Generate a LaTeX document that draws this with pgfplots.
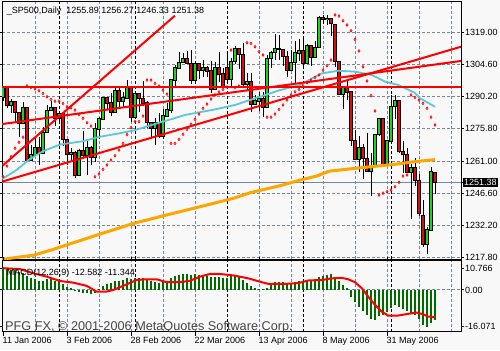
\documentclass[border=0pt]{standalone}
\usepackage{fontspec}
\setmainfont{Liberation Sans}
\usepackage{pgfplots}
\usepackage{pgfplotstable}
\pgfplotsset{compat=1.18}

\definecolor{bgc}{RGB}{248,248,248}
\definecolor{gridc}{RGB}{119,136,153}
\definecolor{bullc}{RGB}{30,210,30}
\definecolor{bearc}{RGB}{215,15,15}
\definecolor{orangec}{RGB}{255,165,0}
\definecolor{cyanc}{RGB}{90,200,215}
\definecolor{histc}{RGB}{0,105,0}
\definecolor{sarc}{RGB}{255,0,0}

\newcommand{\smallfont}{\fontsize{9bp}{10bp}\selectfont}

\pgfplotstableread{
i o h l c
0 1289.7 1294.9 1288.1 1294.2
1 1294.2 1294.2 1285.0 1286.1
2 1286.1 1289.0 1282.8 1287.6
3 1287.6 1287.6 1278.6 1282.9
4 1282.9 1282.9 1272.1 1277.9
5 1277.9 1287.8 1277.9 1285.0
6 1285.0 1285.0 1260.9 1261.5
7 1261.5 1268.2 1261.5 1263.8
8 1263.8 1271.9 1263.8 1266.9
9 1266.9 1271.9 1259.4 1264.7
10 1264.7 1276.4 1264.7 1273.8
11 1273.8 1286.4 1273.8 1283.7
12 1283.7 1287.9 1283.5 1285.2
13 1285.2 1285.2 1276.9 1280.1
14 1280.1 1283.3 1277.6 1282.5
15 1282.5 1282.5 1267.7 1270.8
16 1270.8 1270.9 1259.4 1264.0
17 1264.0 1267.0 1261.0 1265.0
18 1265.0 1265.8 1253.6 1254.8
19 1254.8 1266.5 1254.8 1265.7
20 1265.7 1274.6 1262.8 1263.8
21 1263.8 1269.9 1255.0 1267.0
22 1267.0 1267.7 1259.2 1262.9
23 1262.9 1278.2 1260.8 1275.5
24 1275.5 1281.0 1271.1 1280.0
25 1280.0 1289.4 1280.0 1289.4
26 1289.4 1289.5 1284.6 1287.2
27 1287.2 1291.9 1281.2 1283.0
28 1283.0 1294.2 1283.0 1292.7
29 1292.7 1293.8 1285.4 1287.8
30 1287.8 1292.1 1285.6 1289.4
31 1289.4 1297.6 1289.4 1294.1
32 1294.1 1294.1 1278.7 1280.7
33 1280.7 1291.8 1280.7 1291.2
34 1291.2 1291.2 1283.2 1289.1
35 1289.1 1297.3 1285.7 1287.2
36 1287.2 1288.2 1275.9 1278.3
37 1278.3 1278.3 1271.1 1275.9
38 1275.9 1280.3 1268.4 1278.5
39 1278.5 1282.7 1271.5 1272.2
40 1272.2 1284.4 1271.1 1281.4
41 1281.4 1287.4 1281.4 1284.1
42 1284.1 1298.1 1282.7 1297.5
43 1297.5 1304.4 1295.0 1303.0
44 1303.0 1310.1 1303.0 1305.3
45 1305.3 1309.8 1305.3 1307.3
46 1307.3 1310.6 1305.0 1305.1
47 1305.1 1310.9 1295.8 1297.2
48 1297.2 1306.0 1295.8 1305.0
49 1305.0 1305.0 1298.1 1301.7
50 1301.7 1306.5 1298.9 1303.0
51 1303.0 1303.7 1299.0 1301.6
52 1301.6 1306.2 1291.8 1293.2
53 1293.2 1305.6 1293.2 1302.9
54 1302.9 1310.2 1296.7 1300.3
55 1300.3 1303.0 1294.1 1294.9
56 1302.9 1309.2 1296.7 1297.8
57 1297.8 1307.6 1294.7 1305.9
58 1305.9 1312.8 1304.8 1311.6
59 1311.6 1312.0 1302.4 1309.0
60 1309.0 1314.1 1294.2 1295.5
61 1295.5 1300.7 1293.2 1296.6
62 1296.6 1300.7 1283.0 1286.6
63 1286.6 1290.9 1286.5 1288.1
64 1288.1 1292.1 1283.4 1289.1
65 1289.1 1292.1 1280.7 1285.3
66 1285.3 1309.0 1285.3 1307.3
67 1307.3 1310.4 1302.8 1309.9
68 1309.9 1318.2 1306.4 1311.5
69 1311.5 1317.7 1306.6 1311.3
70 1311.3 1311.3 1303.8 1308.1
71 1308.1 1310.8 1298.9 1301.7
72 1301.7 1311.0 1301.7 1305.4
73 1305.4 1315.0 1295.8 1309.7
74 1309.7 1316.0 1306.2 1310.6
75 1310.6 1317.2 1303.5 1305.2
76 1305.2 1313.7 1305.2 1313.2
77 1313.2 1313.2 1303.9 1307.9
78 1307.9 1315.1 1307.9 1312.3
79 1312.3 1326.5 1312.3 1325.8
80 1325.8 1326.7 1322.9 1324.7
81 1324.7 1326.6 1322.5 1325.1
82 1325.1 1325.5 1317.4 1322.9
83 1322.6 1322.6 1303.5 1305.9
84 1305.9 1305.9 1290.7 1291.2
85 1291.2 1294.8 1284.5 1294.5
86 1294.5 1297.9 1288.5 1292.1
87 1292.1 1292.1 1267.7 1270.3
88 1270.3 1274.9 1261.8 1261.8
89 1261.8 1272.2 1256.3 1267.0
90 1267.0 1268.8 1253.0 1262.1
91 1262.1 1273.7 1256.2 1256.6
92 1256.6 1264.5 1245.3 1258.6
93 1258.6 1273.3 1258.6 1272.9
94 1272.9 1280.5 1272.5 1280.2
95 1280.0 1280.5 1259.9 1259.8
96 1259.4 1270.5 1259.4 1270.1
97 1270.1 1290.7 1270.1 1285.7
98 1285.7 1290.7 1280.2 1288.2
99 1288.2 1288.5 1264.7 1265.3
100 1265.3 1269.9 1255.9 1263.9
101 1263.9 1267.0 1255.8 1256.2
102 1256.2 1259.9 1235.2 1257.9
103 1257.9 1262.6 1250.0 1252.3
104 1252.3 1255.2 1236.4 1237.4
105 1236.4 1243.4 1222.5 1223.7
106 1223.7 1231.5 1219.3 1230.0
107 1230.0 1258.6 1230.0 1256.2
108 1255.89 1256.27 1246.33 1251.38
}\ohlc

\pgfplotstableread{
i s
0 1254.0
1 1258.8
2 1263.0
3 1266.8
4 1269.5
5 1271.8
6 1294.9
7 1294.2
8 1293.6
9 1292.7
10 1291.5
11 1290.0
12 1288.8
13 1288.0
14 1288.0
15 1287.0
16 1285.5
17 1285.0
18 1284.0
19 1282.0
20 1280.3
21 1278.3
22 1276.8
23 1254.0
24 1255.2
25 1257.3
26 1259.3
27 1261.5
28 1263.5
29 1266.0
30 1269.0
31 1273.0
32 1276.1
33 1278.8
34 1278.8
35 1281.3
36 1297.5
37 1297.5
38 1296.0
39 1294.8
40 1293.0
41 1291.2
42 1269.0
43 1269.0
44 1270.8
45 1273.1
46 1275.3
47 1277.6
48 1279.8
49 1282.2
50 1284.8
51 1286.7
52 1289.0
53 1290.8
54 1292.2
55 1293.3
56 1294.4
57 1311.0
58 1294.2
59 1294.8
61 1314.3
62 1314.0
63 1312.5
64 1310.3
65 1308.8
66 1280.8
67 1280.8
68 1282.2
69 1284.3
70 1286.3
71 1288.5
72 1290.8
73 1292.2
74 1293.3
75 1294.9
76 1296.3
77 1297.5
78 1298.7
79 1299.8
80 1302.0
81 1304.0
82 1306.5
83 1326.8
84 1326.3
85 1324.2
86 1322.3
87 1319.7
88 1315.8
89 1310.6
90 1303.5
91 1297.1
92 1290.5
93 1283.6
94 1245.8
95 1246.6
96 1247.3
97 1248.0
98 1249.5
99 1251.5
100 1254.3
101 1254.8
102 1290.8
103 1289.7
104 1288.5
105 1287.0
106 1284.8
107 1280.8
108 1277.3
}\sar

\pgfplotstableread{
i m
0 9.0
1 9.0
2 8.3
3 8.3
4 7.6
5 7.2
6 5.8
7 4.8
8 4.4
9 3.9
10 3.9
11 4.4
12 4.4
13 3.9
14 3.5
15 2.3
16 1.4
17 0.7
18 -0.3
19 -0.7
20 -1.1
21 -1.4
22 -1.8
23 -1.1
24 0.3
25 1.7
26 2.5
27 2.8
28 3.5
29 3.9
30 4.1
31 4.8
32 4.4
33 4.8
34 4.8
35 4.8
36 4.1
37 3.5
38 3.2
39 2.8
40 3.2
41 3.5
42 4.8
43 5.8
44 6.2
45 6.6
46 6.6
47 6.2
48 6.5
49 6.2
50 6.2
51 5.9
52 5.2
53 5.5
54 5.2
55 4.8
56 5.1
57 5.8
58 5.8
59 5.5
60 4.1
61 3.0
62 1.5
63 0.6
64 0.3
65 0.2
66 0.9
67 2.0
68 3.2
69 3.2
70 3.2
71 2.8
72 2.8
73 3.2
74 3.5
75 3.5
76 3.9
77 3.9
78 4.4
79 5.5
80 5.8
81 6.2
82 6.6
83 5.2
84 3.5
85 2.1
86 0.7
87 -2.8
88 -4.8
89 -7.2
90 -8.7
91 -10.4
92 -12.1
93 -12.4
94 -11.0
95 -10.4
96 -9.0
97 -7.6
98 -6.2
99 -7.2
100 -8.0
101 -8.6
102 -9.4
103 -10.4
104 -12.1
105 -14.5
106 -15.5
107 -13.8
108 -12.6
}\macd

\pgfplotsset{
  candle/.style 2 args={forget plot, draw=none, mark=none,
    error bars/.cd, y dir=plus, y explicit, error mark=none,
    error bar style={draw=#1, line width=#2, solid}},
}

\begin{document}
\begin{tikzpicture}[x=1bp,y=1bp]
\fill[bgc] (0,0) rectangle (500,350);

% ---------------- main price panel ----------------
\begin{axis}[
  at={(2bp,348.5bp)}, anchor=north west,
  width=459bp, height=257.5bp, scale only axis,
  xmin=-0.25, xmax=114.5, ymin=1216.99, ymax=1332.86,
  axis line style={black, line width=1bp},
  xtick={8,16,...,112}, xticklabels={}, xtick style={draw=none},
  xmajorgrids, ymajorgrids,
  grid style={gridc, line width=1bp, dash pattern=on 3bp off 2bp},
  ytick={1217.8,1232.2,1246.6,1261.0,1275.8,1290.2,1304.6,1319.0},
  yticklabels={1217.80,1232.20,1246.60,1261.00,1275.80,1290.20,1304.60,1319.00},
  yticklabel pos=right,
  tick align=outside, major tick length=3bp,
  ytick style={black, line width=1bp},
  yticklabel style={font=\smallfont, anchor=west, inner sep=0pt, xshift=1bp},
  extra y ticks={1251.38}, extra y tick labels={1251.38},
  extra y tick style={grid=major, major grid style={solid, gridc, line width=1bp},
     yticklabel style={fill=black, text=white, inner sep=1.5bp, xshift=-2.5bp}},
]
\pgfplotsinvokeforeach{14,33,56,75,97}{
  \draw[black, line width=1bp, dash pattern=on 3bp off 2bp] (axis cs:#1,1216.99) -- (axis cs:#1,1332.86);
}
% candles: wicks
\addplot[candle={black}{1bp}]
  table[x=i, y=l, y error expr=\thisrow{h}-\thisrow{l}] {\ohlc};
% body outlines
\addplot[candle={black}{3.2bp}]
  table[x=i, y expr={min(\thisrow{o},\thisrow{c})-0.3}, y error expr={abs(\thisrow{c}-\thisrow{o})+0.6}] {\ohlc};
% bull bodies
\addplot[restrict expr to domain={\thisrow{c}-\thisrow{o}}{0.001:10000},
  candle={bullc}{1.3bp}]
  table[x=i, y expr={min(\thisrow{o},\thisrow{c})+0.15}, y error expr={max(abs(\thisrow{c}-\thisrow{o})-0.3,0)}] {\ohlc};
% bear bodies
\addplot[restrict expr to domain={\thisrow{c}-\thisrow{o}}{-10000:-0.001},
  candle={bearc}{1.3bp}]
  table[x=i, y expr={min(\thisrow{o},\thisrow{c})+0.15}, y error expr={max(abs(\thisrow{c}-\thisrow{o})-0.3,0)}] {\ohlc};
% moving averages
\addplot[orangec, line width=3bp] coordinates {
(-0.25,1216.6) (1.75,1217.3) (7.6,1218.7) (12,1221.0) (15.9,1223.3) (24.25,1228.2)
(32.6,1233.0) (40.9,1236.8) (49.25,1240.5) (57.6,1244.3) (61.75,1246.8) (70,1250.3)
(74.25,1252.5) (78.4,1254.3) (81.5,1256.5) (89.7,1258.1) (98,1259.6) (103,1260.8) (108,1261.7)};
\addplot[cyanc, line width=1.8bp] coordinates {
(-0.25,1253.0) (3,1256.5) (6.75,1262.0) (10,1265.5) (14.25,1268.5) (20,1270.0) (24.25,1272.0)
(29,1273.5) (33,1275.0) (37.2,1277.3) (41.3,1279.5) (45.5,1281.8) (49.7,1283.2) (53,1284.3)
(58,1286.3) (64.25,1290.0) (69.25,1293.0) (74.25,1295.3) (77.3,1298.3) (79.7,1300.5)
(83.8,1301.7) (88,1301.3) (92.2,1299.8) (95.5,1296.8) (98.8,1295.3) (102.9,1291.8)
(104.25,1289.3) (108,1285.5)};
% parabolic SAR
\addplot[only marks, mark=diamond, mark size=1.35bp, sarc, mark options={line width=0.65bp, solid}]
  table[x=i, y=s] {\sar};
% trend lines
\addplot[red, line width=2bp] coordinates {(-0.1,1259.0) (43,1326.5)};
\addplot[red, line width=2bp] coordinates {(-0.25,1294.3) (114.5,1294.3)};
\addplot[red, line width=2bp] coordinates {(-0.25,1277.7) (114.5,1306.1)};
\addplot[red, line width=2bp] coordinates {(-0.25,1251.8) (114.5,1312.5)};
\end{axis}

% ---------------- MACD panel ----------------
\begin{axis}[
  at={(2bp,89.3bp)}, anchor=north west,
  width=459bp, height=71bp, scale only axis,
  xmin=-0.25, xmax=114.5, ymin=-17.3, ymax=12.1,
  axis line style={black, line width=1bp},
  xtick={8,16,...,112}, xticklabels={}, xtick style={draw=none},
  xmajorgrids,
  grid style={gridc, line width=1bp, dash pattern=on 3bp off 2bp},
  ytick={8.97,-14.94}, yticklabels={10.766,-16.071},
  yticklabel pos=right,
  tick align=outside, major tick length=3bp,
  ytick style={black, line width=1bp},
  yticklabel style={font=\smallfont, anchor=west, inner sep=0pt, xshift=1bp},
  extra y ticks={0}, extra y tick labels={0.00},
  extra y tick style={grid=major},
  extra x ticks={0,16,32,48,64,80,96},
  extra x tick labels={11 Jan 2006,3 Feb 2006,28 Feb 2006,22 Mar 2006,13 Apr 2006,8 May 2006,31 May 2006},
  extra x tick style={grid=none, xtick style={draw=black, line width=1bp}, major tick length=4bp,
     xticklabel style={font=\smallfont, anchor=north west, inner sep=0pt, xshift=-0.5bp, yshift=-1bp}},
]
\pgfplotsinvokeforeach{14,33,56,75,97}{
  \draw[black, line width=1bp, dash pattern=on 3bp off 2bp] (axis cs:#1,-17.3) -- (axis cs:#1,12.1);
}
\addplot[ycomb, histc, line width=1.1bp] table[x=i, y=m] {\macd};
\addplot[red, line width=2bp] coordinates {
(0,9.0) (4.25,8.6) (7.6,6.9) (10.9,5.5) (14.25,3.7) (17.6,3.0) (20.9,1.7) (23.4,-0.7)
(25.9,-0.7) (27.6,0) (30.9,2.3) (33.4,4.1) (35.9,4.4) (38.4,4.4) (40.9,3.2) (44.25,3.2)
(46.75,3.8) (49.25,5.5) (51.75,6.6) (54.25,6.6) (57.6,6.0) (61.3,4.8) (64.7,3.2) (66.3,2.5)
(70.5,2.5) (73.8,2.8) (76.3,3.9) (79.7,4.1) (82.2,4.8) (84.7,5.0) (86.3,4.4) (88,3.2)
(89.7,0.7) (91.3,-2.8) (93,-6.2) (94.7,-9.0) (96.3,-10.6) (98.8,-10.6) (101.3,-9.9)
(103.4,-9.4) (104.7,-9.9) (106.3,-11.0) (108,-11.34)};
\end{axis}

% texts
\node[anchor=base west, inner sep=0pt, font=\smallfont] at (6.7,336.5)
  {\_SP500,Daily\ \ 1255.89 1256.27 1246.33 1251.38};
\node[anchor=base west, inner sep=0pt, font=\smallfont] at (6.7,75)
  {MACD(12,26,9) -12.582 -11.344};
\node[anchor=base west, inner sep=0pt, text=black!72, font=\fontsize{12.7bp}{14bp}\selectfont] at (5,19.2)
  {PFG FX, \textcopyright{} 2001-2006 MetaQuotes Software Corp.};

\pgfresetboundingbox
\path[use as bounding box] (0,0) rectangle (500,350);
\end{tikzpicture}
\end{document}
